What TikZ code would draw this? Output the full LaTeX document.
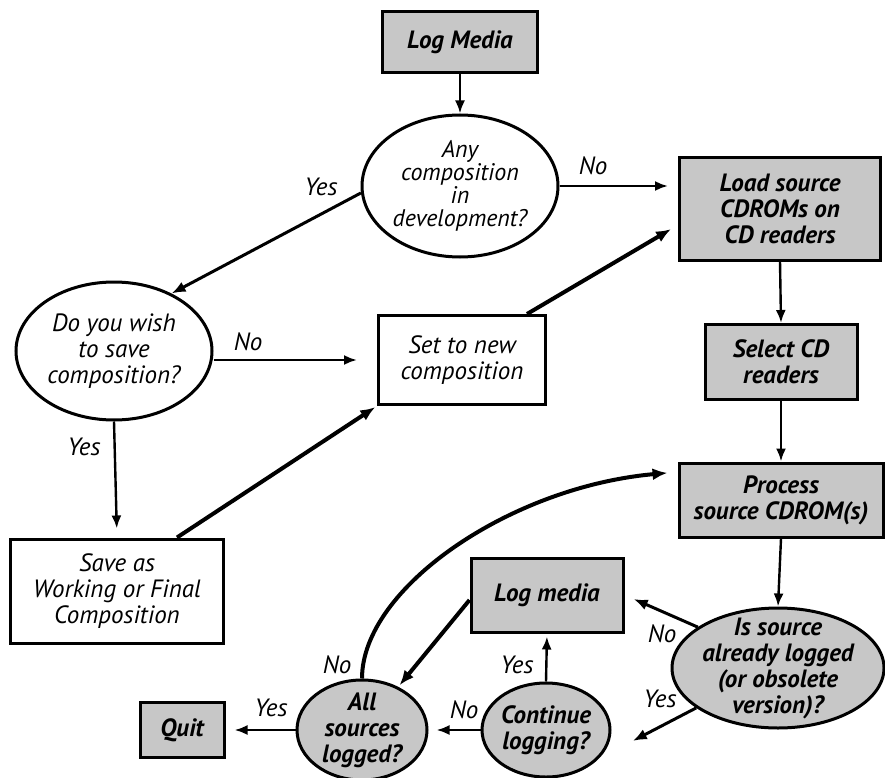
\documentclass[tikz,border=0pt]{standalone}
\usepackage{fontspec}
\setmainfont{PT Sans}
\usetikzlibrary{shapes.geometric,arrows.meta,calc}
\definecolor{shade}{gray}{0.78}
\begin{document}
\begin{tikzpicture}[x=1pt,y=-1pt,
  txt/.style={font=\fontsize{25}{26}\selectfont\itshape, align=center, text=black},
  boxw/.style={draw, line width=3pt, txt, inner sep=0pt},
  boxg/.style={boxw, fill=shade, font=\fontsize{25}{26}\selectfont\bfseries\itshape},
  ellw/.style={ellipse, draw, line width=3pt, txt, inner sep=-40pt},
  ellg/.style={ellw, fill=shade, font=\fontsize{25}{26}\selectfont\bfseries\itshape},
  arr/.style={line width=2.4pt, -{Latex[length=13pt,width=10pt]}},
  darr/.style={line width=3pt, -{Latex[length=14pt,width=11pt]}},
  tarr/.style={line width=4pt, -{Latex[length=15pt,width=12pt]}},
  lab/.style={font=\fontsize{25}{26}\selectfont\itshape}
]
\useasboundingbox (0,0) rectangle (885,778);

% nodes
\node[boxg, minimum width=155pt, minimum height=61pt] (logM) at (460,42) {Log Media};
\node[ellw, minimum width=196pt, minimum height=142pt, font=\fontsize{24}{23}\selectfont\itshape] (any) at (460,186) {Any\\composition\\in\\development?};
\node[boxg, minimum width=201pt, minimum height=102pt] (load) at (780,209) {Load source\\CDROMs on\\CD readers};
\node[ellw, minimum width=196pt, minimum height=138pt] (do) at (114,351) {Do you wish\\to save\\composition?};
\node[boxw, minimum width=167pt, minimum height=89pt] (set) at (462,360) {Set to new\\composition};
\node[boxg, minimum width=152pt, minimum height=75pt] (select) at (781,362) {Select CD\\readers};
\node[boxw, minimum width=213pt, minimum height=104pt] (save) at (117,591) {Save as\\Working or Final\\Composition};
\node[boxg, minimum width=204pt, minimum height=74pt] (proc) at (781,500) {Process\\source CDROM(s)};
\node[ellg, minimum width=212pt, minimum height=120pt] (is) at (778,668) {Is source\\already logged\\(or obsolete\\version)?};
\node[boxg, minimum width=152pt, minimum height=74pt] (logm) at (547,595) {Log media};
\node[ellg, minimum width=128pt, minimum height=94pt] (cont) at (546,730) {Continue\\logging?};
\node[ellg, minimum width=130pt, minimum height=100pt] (all) at (362,730) {All\\sources\\logged?};
\node[boxg, minimum width=84pt, minimum height=55pt] (quit) at (182,730) {Quit};

% labels
\node[lab] (l1) at (593,166) {No};
\node[lab] (l2) at (321,187) {Yes};
\node[lab] (l3) at (248,342) {No};
\node[lab] (l4) at (84,447) {Yes};
\node[lab] (l5) at (337,665) {No};
\node[lab] (l6) at (271,708) {Yes};
\node[lab] (l7) at (464,710) {No};
\node[lab] (l8) at (517,665) {Yes};
\node[lab] (l9) at (662,634) {No};
\node[lab] (l10) at (660,699) {Yes};

% connectors
\draw[arr] (logM.south) -- (any.north);
\draw[arr, shorten >=10pt] (any.east) -- (any.east -| load.west);
\draw[darr] (any.184) -- (do.45);
\draw[arr, shorten >=20pt] (do.east |- set.west) -- (set.west);
\draw[arr, shorten >=9pt] (do.south) -- (save.north);
\draw[tarr, shorten >=2pt] ([xshift=60pt]save.north) -- (set.south west);
\draw[tarr, shorten >=8pt] ([xshift=65pt]set.north) -- ([yshift=-16pt]load.west);
\draw[arr] (load.south) -- (select.north);
\draw[arr] (select.south) -- (proc.north);
\draw[arr] (proc.south) -- (is.north);
\draw[darr, shorten >=10pt] (is.153) -- (logm.east);
\draw[darr, shorten >=24pt] (is.206) -- ([yshift=-22pt]cont.east);
\draw[arr, shorten >=3pt] (cont.north) -- (logm.south);
\draw[arr, shorten >=8pt] (cont.west) -- (cont.west -| all.east);
\draw[tarr, shorten >=2pt] ([yshift=-5pt]logm.west) -- (all.50);
\draw[tarr, shorten >=10pt] (all.north) .. controls +(0,-90) and +(-168,15) .. ([yshift=28pt]proc.west);
\draw[arr, shorten >=9pt] (all.west) -- (quit.east);
\end{tikzpicture}
\end{document}
